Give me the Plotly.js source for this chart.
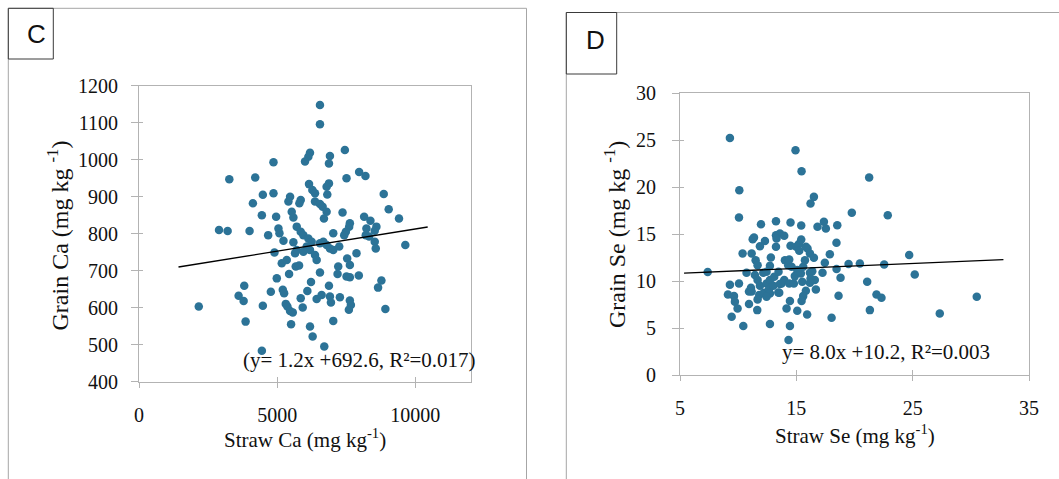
<!DOCTYPE html>
<html>
<head>
<meta charset="utf-8">
<script src="https://cdn.plot.ly/plotly-3.0.1.min.js"></script>
<style>
  html, body { margin: 0; padding: 0; background: #ffffff; }
  #chart { width: 1059px; height: 479px; }
</style>
</head>
<body>
<div id="chart"></div>
<script>
// Panel C: straw vs grain calcium (mg kg-1)
const strawCa = [6551,6551,7452,6190,6130,6010,6912,6876,4868,7969,
  8197,7512,3269,4207,6155,6876,6792,6275,6371,4868,
  4483,6816,5469,5409,5854,5806,8859,4123,6371,6551,
  6647,6792,6695,5529,5589,4964,4447,7368,9039,9412,
  8150,8378,7633,7608,7488,7428,8594,8534,8233,8209,
  8330,8534,8570,9640,2897,3209,4003,4676,5048,5084,
  5229,5710,5854,5950,6130,6250,5589,5649,5710,5950,
  6070,6190,6371,6431,6551,6671,6792,6912,7032,7032,
  7248,4904,7873,7536,7633,5168,5349,5674,5794,6551,
  7212,4988,5433,7188,7512,7633,7957,6226,6876,8775,
  8654,3810,3606,3787,4772,5205,5253,6094,5854,6431,
  6611,6912,6948,7272,7633,7669,7597,8919,4483,5313,
  5373,5469,5566,5926,2164,3859,5505,6190,6286,7032,
  6707,4447];
const grainCa = [1148,1096,1026,1019,1008,995,1010,990,993,967,
  956,950,947,952,934,936,927,918,909,909,
  905,906,900,887,891,882,907,882,887,880,
  873,859,841,859,844,846,850,857,866,841,
  846,835,828,819,805,796,819,808,814,796,
  792,778,760,769,810,807,807,796,814,801,
  781,819,805,796,787,778,777,747,756,751,
  765,756,742,729,774,778,769,760,801,756,
  765,749,747,733,715,720,729,711,714,695,
  711,679,691,691,684,682,687,669,659,673,
  654,659,632,618,643,648,639,645,625,623,
  634,630,614,628,619,607,594,596,605,610,
  603,591,587,600,603,562,555,549,522,564,
  495,483];
// Regression line for C, from its stated coefficients (slope per 100 mg kg-1)
const caSlope = 1.2, caIntercept = 692.6, caR2 = 0.017;
const caFitX = [1430, 10450];

// Panel D: straw vs grain selenium
const strawSe = [9.29,14.93,15.45,21.26,10.10,16.51,16.22,19.77,22.86,10.07,
  13.25,14.50,11.96,17.37,17.54,16.82,15.42,18.52,11.36,11.25,
  12.30,11.87,13.25,13.59,13.96,13.30,13.25,15.42,15.22,14.99,
  14.50,15.96,16.17,16.51,18.45,17.88,17.45,18.46,18.80,19.49,
  20.46,22.55,24.70,25.18,21.09,21.89,22.32,21.32,27.33,30.51,
  18.63,18.03,16.68,16.59,17.25,16.37,7.38,9.29,10.07,9.12,
  9.64,9.72,9.95,9.44,10.44,10.38,10.72,10.93,10.93,11.10,
  11.16,11.50,11.67,11.64,12.73,11.67,11.87,11.81,12.21,12.44,
  12.64,12.73,12.81,12.73,12.44,13.02,13.10,13.47,13.53,13.73,
  14.02,14.30,13.96,14.39,14.59,14.39,14.87,15.08,15.39,15.51,
  15.59,15.74,15.82,15.25,14.79,15.82,15.59,15.45,15.08,14.45,
  14.16,14.45,14.33,15.93,16.17,16.22,16.17,13.45,13.59,11.67,
  11.16,11.44,12.16,12.73,12.44];
const grainSe = [25.25,23.94,21.70,21.03,19.68,18.97,18.26,17.27,17.02,16.77,
  16.38,16.24,16.06,16.31,15.60,15.78,15.92,15.96,14.65,14.45,
  14.26,13.72,14.89,15.07,14.82,14.54,13.65,14.43,13.94,13.65,
  13.76,13.48,12.94,12.48,14.08,12.87,11.95,11.28,10.35,11.81,
  11.88,11.77,12.77,10.71,9.93,8.58,8.23,6.91,6.56,8.33,
  8.44,6.10,9.11,10.11,10.89,11.06,10.96,9.61,9.75,8.58,
  8.40,7.80,7.09,6.21,5.21,12.94,10.89,8.90,7.55,9.29,
  12.94,12.23,11.70,6.91,5.43,10.11,9.50,8.51,8.76,9.75,
  9.11,10.11,12.52,11.63,10.99,9.50,10.46,10.99,8.76,9.75,
  12.23,11.70,10.11,9.75,11.52,12.30,10.53,11.17,10.82,9.93,
  11.52,12.23,13.65,13.23,9.75,8.97,8.40,7.87,6.84,7.87,
  7.09,5.21,3.72,6.45,10.89,10.28,9.82,8.79,9.68,8.05,
  8.90,10.64,10.89,8.69,8.33];
// Fitted line for D (end points) and its stated equation
const seFitX = [5.35, 32.8];
const seFitY = [10.85, 12.28];
const seSlope = 8.0, seIntercept = 10.2, seR2 = 0.003;

// Axis ticks
const caXTicks = [0, 5000, 10000];
const caYTicks = [400, 500, 600, 700, 800, 900, 1000, 1100, 1200];
const seXTicks = [5, 15, 25, 35];
const seYTicks = [0, 5, 10, 15, 20, 25, 30];
const caXRange = [0, 12000], caYRange = [400, 1200];
const seXRange = [5, 35], seYRange = [0, 30];

const W = 1059, H = 479;
const fx = p => p / W;
const fy = p => 1 - p / H;

const dotColor = '#2c7397';
const serif = 'Liberation Serif, Times New Roman, serif';
const ink = '#111111';
const axisGrey = '#b3b3b3';

// plot areas in pixels
const caBox = { x: [139, 470.5], y: [381.5, 85.8] };
const seBox = { x: [680, 1029], y: [375, 93.3] };

const traces = [
  { type: 'scatter', mode: 'markers', x: strawCa, y: grainCa, xaxis: 'x', yaxis: 'y',
    marker: { color: dotColor, size: 8.5 }, hoverinfo: 'x+y' },
  { type: 'scatter', mode: 'lines', x: caFitX,
    y: caFitX.map(v => caIntercept + caSlope * v / 100), xaxis: 'x', yaxis: 'y',
    line: { color: '#000000', width: 1.3 }, hoverinfo: 'skip' },
  { type: 'scatter', mode: 'markers', x: strawSe, y: grainSe, xaxis: 'x2', yaxis: 'y2',
    marker: { color: dotColor, size: 8.5 }, hoverinfo: 'x+y' },
  { type: 'scatter', mode: 'lines', x: seFitX, y: seFitY, xaxis: 'x2', yaxis: 'y2',
    line: { color: '#000000', width: 1.3 }, hoverinfo: 'skip' },
  // empty traces holding the inner halves of the crossing tick marks
  { type: 'scatter', mode: 'markers', x: [], y: [], xaxis: 'x3', yaxis: 'y3', hoverinfo: 'skip' },
  { type: 'scatter', mode: 'markers', x: [], y: [], xaxis: 'x4', yaxis: 'y4', hoverinfo: 'skip' }
];

function axis(extra) {
  return Object.assign({
    showgrid: false, zeroline: false, showline: true, mirror: true,
    linecolor: axisGrey, linewidth: 1, ticks: 'outside', tickcolor: axisGrey,
    ticklen: 6, tickwidth: 1, tickmode: 'array',
    tickfont: { family: serif, size: 20, color: ink }
  }, extra);
}
function innerTicks(extra) {
  return Object.assign({
    showgrid: false, zeroline: false, showline: false, showticklabels: false,
    ticks: 'inside', tickcolor: axisGrey, tickwidth: 1, tickmode: 'array'
  }, extra);
}

const frameGrey = '#a6a6a6';
const shapes = [
  // outer frames of the two panels
  { type: 'line', xref: 'paper', yref: 'paper', x0: fx(8.3), x1: fx(8.3), y0: fy(8.3), y1: fy(H), line: { color: frameGrey, width: 1 } },
  { type: 'line', xref: 'paper', yref: 'paper', x0: fx(8.3), x1: fx(526.5), y0: fy(8.3), y1: fy(8.3), line: { color: frameGrey, width: 1 } },
  { type: 'line', xref: 'paper', yref: 'paper', x0: fx(526.5), x1: fx(526.5), y0: fy(8.3), y1: fy(H), line: { color: frameGrey, width: 1 } },
  { type: 'line', xref: 'paper', yref: 'paper', x0: fx(566.3), x1: fx(566.3), y0: fy(12.5), y1: fy(H), line: { color: frameGrey, width: 1 } },
  { type: 'line', xref: 'paper', yref: 'paper', x0: fx(566.3), x1: fx(W), y0: fy(12.5), y1: fy(12.5), line: { color: frameGrey, width: 1 } },
  // panel letter boxes
  { type: 'rect', xref: 'paper', yref: 'paper', x0: fx(8.3), x1: fx(53.3), y0: fy(59), y1: fy(8.3), line: { color: '#3a3a3a', width: 1 }, fillcolor: 'rgba(0,0,0,0)' },
  { type: 'rect', xref: 'paper', yref: 'paper', x0: fx(566.3), x1: fx(616.7), y0: fy(74), y1: fy(12.5), line: { color: '#3a3a3a', width: 1 }, fillcolor: 'rgba(0,0,0,0)' }
];

function note(text, x, y, size, opts) {
  return Object.assign({ text: text, xref: 'paper', yref: 'paper', x: fx(x), y: fy(y),
    showarrow: false, xanchor: 'center', yanchor: 'middle',
    font: { family: serif, size: size, color: ink } }, opts || {});
}
const sans = { family: 'Liberation Sans, Arial, sans-serif', size: 26, color: ink };

const annotations = [
  note('C', 36.5, 34, 26, { font: sans }),
  note('D', 595.5, 39.5, 26, { font: sans }),
  note('(y= ' + caSlope.toFixed(1) + 'x +' + caIntercept.toFixed(1) + ', R²=' + caR2.toFixed(3) + ')', 241, 360, 21, { xanchor: 'left' }),
  note('y= ' + seSlope.toFixed(1) + 'x +' + seIntercept.toFixed(1) + ', R²=' + seR2.toFixed(3), 780, 352, 21, { xanchor: 'left' }),
  // axis titles
  note('Straw Ca (mg kg<sup>-1</sup>)', 304.5, 438, 21),
  note('Straw Se (mg kg<sup>-1</sup>)', 854.5, 434, 21),
  note('Grain Ca (mg kg <sup>-1</sup>)', 57.5, 236, 24, { textangle: -90 }),
  note('Grain Se (mg kg <sup>-1</sup>)', 615, 235, 24, { textangle: -90 })
];

const layout = {
  width: W, height: H,
  margin: { l: 0, r: 0, t: 0, b: 0, pad: 0 },
  paper_bgcolor: '#ffffff', plot_bgcolor: 'rgba(0,0,0,0)',
  showlegend: false,
  xaxis: axis({ domain: [fx(caBox.x[0]), fx(caBox.x[1])], range: caXRange, tickvals: caXTicks, ticktext: caXTicks.map(String), anchor: 'y', ticklen: 5, ticklabelstandoff: 10 }),
  yaxis: axis({ domain: [fy(caBox.y[0]), fy(caBox.y[1])], range: caYRange, tickvals: caYTicks, ticktext: caYTicks.map(String), anchor: 'x', ticklen: 7, ticklabelstandoff: 9 }),
  xaxis2: axis({ domain: [fx(seBox.x[0]), fx(seBox.x[1])], range: seXRange, tickvals: seXTicks, ticktext: seXTicks.map(String), anchor: 'y2', ticklen: 5, ticklabelstandoff: 10 }),
  yaxis2: axis({ domain: [fy(seBox.y[0]), fy(seBox.y[1])], range: seYRange, tickvals: seYTicks, ticktext: seYTicks.map(String), anchor: 'x2', ticklen: 7, ticklabelstandoff: 12 }),
  xaxis3: innerTicks({ domain: [fx(caBox.x[0]), fx(caBox.x[1])], range: caXRange, tickvals: caXTicks, anchor: 'y3', ticklen: 5 }),
  yaxis3: innerTicks({ domain: [fy(caBox.y[0]), fy(caBox.y[1])], range: caYRange, tickvals: caYTicks, anchor: 'x3', ticklen: 4 }),
  xaxis4: innerTicks({ domain: [fx(seBox.x[0]), fx(seBox.x[1])], range: seXRange, tickvals: seXTicks, anchor: 'y4', ticklen: 5 }),
  yaxis4: innerTicks({ domain: [fy(seBox.y[0]), fy(seBox.y[1])], range: seYRange, tickvals: seYTicks, anchor: 'x4', ticklen: 4 }),
  shapes: shapes,
  annotations: annotations
};

Plotly.newPlot('chart', traces, layout, { displayModeBar: false });
</script>
</body>
</html>
